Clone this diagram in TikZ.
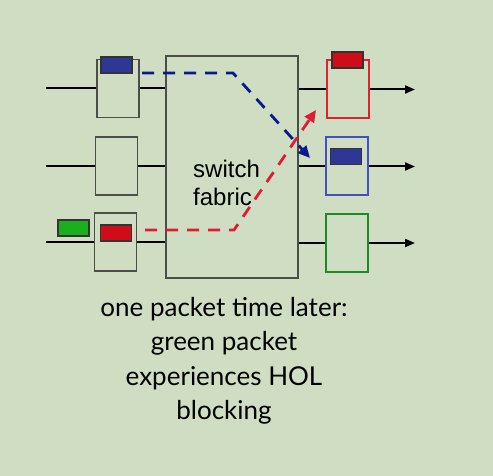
\documentclass[tikz,border=0pt]{standalone}
\usepackage{fontspec}
\setmainfont{Lato}
\newfontfamily\fabricfont{Liberation Sans}
\usetikzlibrary{arrows.meta}
\definecolor{bg}{HTML}{CFDEC3}
\definecolor{portgray}{HTML}{4A4F4A}
\definecolor{pktblue}{HTML}{2D3896}
\definecolor{pktred}{HTML}{D00C18}
\definecolor{pktgreen}{HTML}{1CAE1E}
\definecolor{dashblue}{HTML}{0B1A8A}
\definecolor{dashred}{HTML}{E01C34}
\definecolor{outred}{HTML}{E3202E}
\definecolor{outblue}{HTML}{4450BE}
\definecolor{outgreen}{HTML}{1E8A22}
\begin{document}
\begin{tikzpicture}[x=1pt,y=-1pt]
\tikzstyle{port}=[draw=portgray, line width=1.6pt, minimum width=42pt, minimum height=58pt, inner sep=0pt]
\tikzstyle{outport}=[port, line width=2pt]
\tikzstyle{pkt}=[draw=black!80, line width=1.3pt, minimum width=31pt, minimum height=16pt, inner sep=0pt]
\tikzstyle{wire}=[line width=2pt]
\tikzstyle{outwire}=[wire, -{Triangle[length=10pt,width=8pt]}]
\tikzstyle{hop}=[line width=2.8pt, dash pattern=on 12pt off 9pt, -{Triangle[length=12pt,width=11pt]}]
\fill[bg] (0,0) rectangle (493,476);
\useasboundingbox (0,0) rectangle (493,476);
\node[draw=portgray, line width=1.5pt, minimum width=132pt, minimum height=222pt] (fabric) at (232,167) {};
\node[anchor=north west, inner sep=0pt, align=left, font=\fabricfont\fontsize{24}{28}\selectfont] (fabtext) at (193,159.5) {switch\\fabric};
\node[port] (in1) at (118,88.5) {};
\node[port] (in2) at (116.5,166) {};
\node[port] (in3) at (115.5,242) {};
\node[outport, draw=outred] (out1) at (348,89.5) {};
\node[outport, draw=outblue] (out2) at (346.5,166.5) {};
\node[outport, draw=outgreen] (out3) at (346.5,243) {};
\node[pkt, fill=pktblue] (blue1) at (116.5,65) {};
\node[pkt, fill=pktred] (red1) at (116,233) {};
\node[pkt, fill=pktgreen] (green1) at (73.5,228) {};
\node[pkt, fill=pktred] (red2) at (347.5,60) {};
\node[pkt, fill=pktblue] (blue2) at (346,156.5) {};
\coordinate (left) at (46,0);
\coordinate (right) at (415,0);
\foreach \i in {1,2,3} {
	\draw[wire] (in\i.west -| left) -- (in\i.west);
	\draw[wire] (in\i.east) -- (in\i.east -| fabric.west);
	\draw[wire] (out\i.west -| fabric.east) -- (out\i.west);
	\draw[outwire] (out\i.east) -- (out\i.east -| right);
}
\coordinate (bstart) at (142,73);
\coordinate (bturn) at (233,73);
\coordinate (bend) at (310,158);
\coordinate (rstart) at (145,230);
\coordinate (rturn) at (234,230);
\coordinate (rend) at (316,110);
\draw[hop, dashblue] (bstart) -- (bturn) -- (bend);
\draw[hop, dashred] (rstart) -- (rturn) -- (rend);
\node[anchor=north, inner sep=0pt, align=center, font=\fontsize{26}{34.5}\selectfont] (caption) at (224,297) {one packet time later:\\green packet\\experiences HOL\\blocking};
\end{tikzpicture}
\end{document}
